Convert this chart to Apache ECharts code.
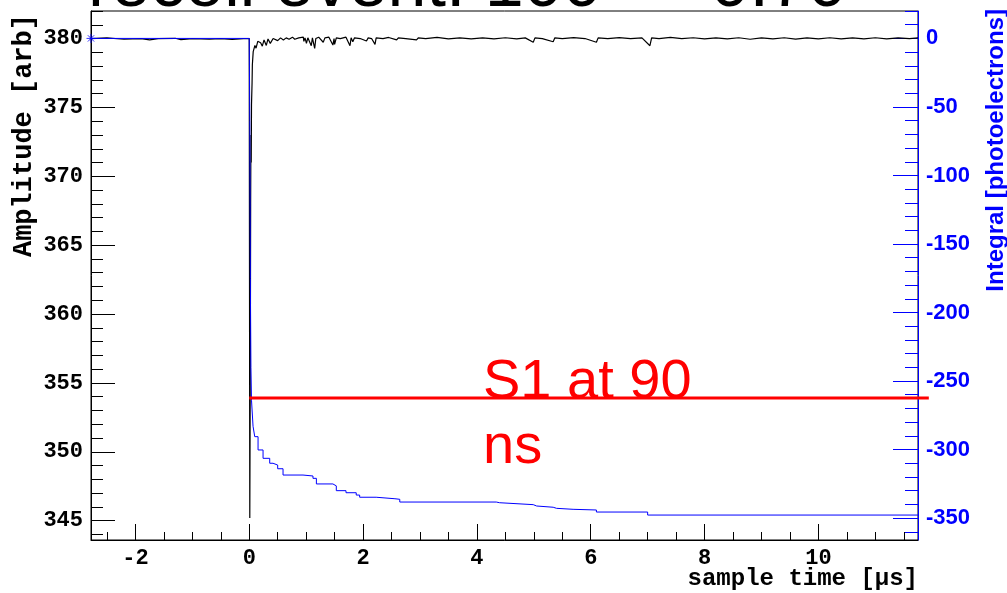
<!DOCTYPE html>
<html>
<head>
<meta charset="utf-8">
<script src="https://cdn.jsdelivr.net/npm/echarts@6/dist/echarts.min.js"></script>
<style>
  body { margin: 0; background: #fff; }
  #chart { width: 1007px; height: 593px; }
</style>
</head>
<body>
<div id="chart"></div>
<script>
// axis ranges
const timeRange = [-2.78, 11.75];
const ampRange = [343.6, 382];
const integralRange = [-366, 20];

// tick values
const timeMajor = [-2, 0, 2, 4, 6, 8, 10];
const timeMinor = [-2.5, -1.5, -1, -0.5, 0.5, 1, 1.5, 2.5, 3, 3.5, 4.5, 5, 5.5, 6.5, 7, 7.5, 8.5, 9, 9.5, 10.5, 11, 11.5];
const ampMajor = [345, 350, 355, 360, 365, 370, 375, 380];
const ampMinor = [344, 346, 347, 348, 349, 351, 352, 353, 354, 356, 357, 358, 359, 361, 362, 363, 364, 366, 367, 368, 369, 371, 372, 373, 374, 376, 377, 378, 379, 381, 382];
const integralMajor = [-350, -300, -250, -200, -150, -100, -50, 0];
const integralMinor = [-360, -340, -330, -320, -310, -290, -280, -270, -260, -240, -230, -220, -210, -190, -180, -170, -160, -140, -130, -120, -110, -90, -80, -70, -60, -40, -30, -20, -10, 10, 20];

// waveform [time us, amplitude]
const amplitudeTrace = [
  [-2.78, 380.0], [-2.5, 380.05], [-2.2, 379.95], [-1.9, 380.0], [-1.75, 379.9], [-1.6, 380.0],
  [-1.3, 380.02], [-1.2, 379.92], [-1.0, 380.0], [-0.7, 379.95], [-0.5, 380.0], [-0.3, 379.93],
  [-0.1, 380.0], [0, 380.0], [0.01, 345.2], [0.02, 358], [0.025, 368], [0.03, 373], [0.035, 371],
  [0.04, 375.2], [0.05, 376.8], [0.055, 378.1], [0.07, 379.05], [0.1, 379.5], [0.12, 379.3],
  [0.15, 379.8], [0.2, 379.7], [0.23, 379.45], [0.26, 379.9], [0.3, 379.5], [0.33, 379.97],
  [0.37, 379.65], [0.42, 380.0], [0.5, 379.85], [0.55, 380.05], [0.6, 379.9], [0.65, 380.05],
  [0.7, 379.95], [0.76, 380.1], [0.8, 379.95], [0.87, 380.05], [0.95, 380.1], [0.96, 379.8],
  [0.98, 380.05], [1.005, 379.66], [1.03, 380.05], [1.09, 379.48], [1.11, 380.05], [1.15, 379.29],
  [1.17, 380.0], [1.22, 380.1], [1.3, 379.73], [1.33, 380.05], [1.4, 380.1], [1.47, 379.53],
  [1.49, 380.0], [1.5, 379.58], [1.53, 380.05], [1.6, 380.0], [1.7, 380.1], [1.77, 379.48],
  [1.79, 380.05], [1.82, 379.77], [1.85, 380.05], [1.95, 380.0], [2.06, 379.82], [2.09, 380.05],
  [2.15, 380.0], [2.21, 379.58], [2.23, 380.05], [2.35, 380.0], [2.45, 380.08], [2.59, 379.9],
  [2.62, 380.05], [2.75, 380.0], [2.94, 379.9], [2.97, 380.05], [3.1, 380.0], [3.3, 380.08],
  [3.5, 379.98], [3.7, 380.05], [3.9, 379.97], [4.1, 380.05], [4.3, 379.98], [4.5, 380.06],
  [4.7, 379.98], [4.85, 380.05], [4.99, 379.73], [5.02, 380.05], [5.15, 380.0], [5.34, 379.77],
  [5.37, 380.05], [5.5, 380.0], [5.7, 380.07], [5.9, 380.0], [6.1, 379.73], [6.13, 380.05],
  [6.3, 380.0], [6.5, 380.07], [6.7, 380.0], [6.9, 380.05], [7.04, 379.48], [7.07, 380.05],
  [7.2, 380.0], [7.4, 380.08], [7.6, 380.0], [7.8, 380.06], [8.0, 379.97], [8.2, 380.05],
  [8.4, 379.98], [8.6, 380.06], [8.8, 379.95], [9.0, 380.05], [9.2, 379.97], [9.4, 380.06],
  [9.6, 379.96], [9.8, 380.05], [10.0, 379.97], [10.2, 380.06], [10.4, 379.97], [10.6, 380.05],
  [10.8, 379.98], [11.0, 380.06], [11.2, 379.98], [11.4, 380.05], [11.6, 380.0], [11.75, 380.05]
];

// running integral [time us, photoelectrons]
const integralTrace = [
  [-2.78, 0], [0, 0], [0.01, -60], [0.02, -175], [0.03, -240], [0.04, -264], [0.067, -283],
  [0.097, -290.6], [0.155, -300.3], [0.243, -306.4], [0.36, -310], [0.418, -311.3], [0.5, -314],
  [0.594, -318.6], [0.945, -319.3], [1.12, -321], [1.18, -325.1], [1.47, -326.5], [1.53, -330],
  [1.7, -331.5], [1.88, -333.2], [1.94, -334.8], [2.23, -335.9], [2.56, -336.3], [2.645, -338.3],
  [4.34, -338.8], [4.4, -340.2], [4.99, -341.2], [5.05, -342.1], [5.34, -342.9], [5.4, -343.6],
  [5.69, -344.1], [6.1, -345.6], [7.0, -347.8], [11.75, -347.8]
];

// S1 marker: start time, end time, amplitude level
const s1Segment = [[0, 11.94, 353.9]];

const monoLabel = { fontFamily: 'Liberation Mono', fontWeight: 'bold', fontSize: 22, color: '#000' };
const blueLabel = { fontFamily: 'Liberation Sans', fontWeight: 'bold', fontSize: 22, color: '#0000ff' };

function valueAxis(extra) {
  return Object.assign({
    type: 'value',
    gridIndex: 0,
    splitLine: { show: false },
    axisLabel: { show: false },
    axisLine: { show: false, onZero: false },
    axisTick: { show: false }
  }, extra);
}

const chart = echarts.init(document.getElementById('chart'));
chart.setOption({
  animation: false,
  backgroundColor: '#fff',
  grid: { left: 91, right: 89, top: 11, bottom: 53, show: true, borderColor: '#000', borderWidth: 1 },
  xAxis: [
    valueAxis({
      min: timeRange[0], max: timeRange[1], position: 'bottom',
      axisLine: { show: true, onZero: false, lineStyle: { color: '#000', width: 1 } },
      axisTick: { show: true, inside: true, length: 16, customValues: timeMajor, lineStyle: { color: '#000' } },
      axisLabel: Object.assign({ show: true, margin: 7, customValues: timeMajor }, monoLabel)
    }),
    valueAxis({
      min: timeRange[0], max: timeRange[1], position: 'bottom',
      axisTick: { show: true, inside: true, length: 8, customValues: timeMinor, lineStyle: { color: '#000' } }
    })
  ],
  yAxis: [
    valueAxis({
      min: ampRange[0], max: ampRange[1], position: 'left',
      axisLine: { show: true, onZero: false, lineStyle: { color: '#000', width: 1 } },
      axisTick: { show: true, inside: true, length: 24, customValues: ampMajor, lineStyle: { color: '#000' } },
      axisLabel: Object.assign({ show: true, margin: 8, customValues: ampMajor }, monoLabel)
    }),
    valueAxis({
      min: ampRange[0], max: ampRange[1], position: 'left',
      axisTick: { show: true, inside: true, length: 12, customValues: ampMinor, lineStyle: { color: '#000' } }
    }),
    valueAxis({
      min: integralRange[0], max: integralRange[1], position: 'right',
      axisLine: { show: true, onZero: false, lineStyle: { color: '#0000ff', width: 1 } },
      axisTick: { show: true, inside: true, length: 25, customValues: integralMajor, lineStyle: { color: '#0000ff' } },
      axisLabel: Object.assign({ show: true, margin: 8, customValues: integralMajor }, blueLabel)
    }),
    valueAxis({
      min: integralRange[0], max: integralRange[1], position: 'right',
      axisTick: { show: true, inside: true, length: 13, customValues: integralMinor, lineStyle: { color: '#0000ff' } }
    })
  ],
  series: [
    {
      type: 'line', xAxisIndex: 0, yAxisIndex: 0, data: amplitudeTrace,
      showSymbol: false, lineStyle: { color: '#000', width: 1.2 }, z: 2
    },
    {
      type: 'line', xAxisIndex: 0, yAxisIndex: 2, data: integralTrace, step: 'end',
      showSymbol: false, lineStyle: { color: '#0000ff', width: 1 }, z: 3
    },
    {
      type: 'scatter', xAxisIndex: 0, yAxisIndex: 2, data: [integralTrace[0]], clip: false,
      symbol: 'path://M0,5L10,5M5,0L5,10M1.5,1.5L8.5,8.5M8.5,1.5L1.5,8.5', symbolSize: 9,
      itemStyle: { color: 'none', borderColor: '#0000ff', borderWidth: 1 }, z: 4
    },
    {
      // S1 line runs a little past the right frame, like the original
      type: 'custom', xAxisIndex: 0, yAxisIndex: 0, data: s1Segment, clip: false, z: 5,
      renderItem: function (params, api) {
        const a = api.coord([api.value(0), api.value(2)]);
        const b = api.coord([api.value(1), api.value(2)]);
        return {
          type: 'line',
          shape: { x1: a[0], y1: a[1], x2: b[0], y2: b[1] },
          style: { stroke: '#ff0000', lineWidth: 3 }
        };
      }
    }
  ],
  graphic: [
    {
      type: 'text', left: 88, top: -48, z: 10,
      style: { text: 'recoil event: 100 \u2014 0.70', font: '70px "Liberation Sans"', fill: '#000' }
    },
    {
      type: 'text', x: 24, y: 14, rotation: Math.PI / 2, z: 10,
      style: { text: 'Amplitude [arb]', font: 'bold 27px "Liberation Mono"', fill: '#000', align: 'right', verticalAlign: 'middle' }
    },
    {
      type: 'text', x: 996, y: 9, rotation: Math.PI / 2, z: 10,
      style: { text: 'Integral [photoelectrons]', font: 'bold 24px "Liberation Sans"', fill: '#0000ff', align: 'right', verticalAlign: 'middle' }
    },
    {
      type: 'text', x: 918, y: 579, z: 10,
      style: { text: 'sample time [\u03bcs]', font: 'bold 24px "Liberation Mono"', fill: '#000', align: 'right', verticalAlign: 'middle' }
    },
    {
      type: 'text', x: 483, y: 383, z: 10,
      style: { text: 'S1 at 90', font: '56px "Liberation Sans"', fill: '#ff0000', align: 'left', verticalAlign: 'middle' }
    },
    {
      type: 'text', x: 483, y: 448, z: 10,
      style: { text: 'ns', font: '56px "Liberation Sans"', fill: '#ff0000', align: 'left', verticalAlign: 'middle' }
    }
  ]
});
</script>
</body>
</html>
